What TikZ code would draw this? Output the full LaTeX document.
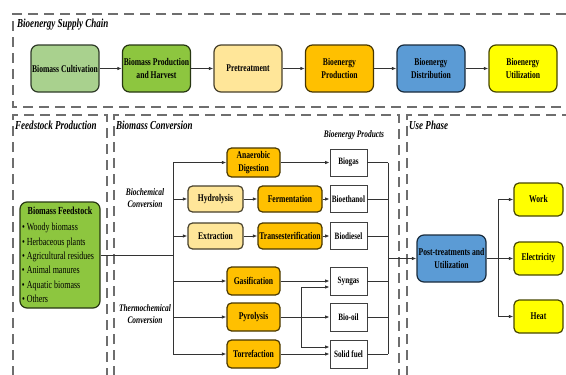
\documentclass[tikz,border=0pt]{standalone}
\usepackage{fontspec}
\setmainfont{Liberation Serif}[FakeStretch=0.74]
\usetikzlibrary{arrows.meta}
\definecolor{lgreen}{HTML}{A9D18E}
\definecolor{mgreen}{HTML}{8DC63F}
\definecolor{lorange}{HTML}{FFE699}
\definecolor{orng}{HTML}{FFC000}
\definecolor{blu}{HTML}{5B9BD5}
\definecolor{yel}{HTML}{FFFF00}
\definecolor{dashgray}{HTML}{6E6E6E}
\begin{document}
\begin{tikzpicture}[x=1pt,y=-1pt,
  box/.style={rounded corners=4.5pt, line width=1.2pt, align=center, inner sep=1pt,
    font=\fontsize{10.3}{12.3}\selectfont\bfseries},
  fillc/.style={box, fill=#1, draw=#1!28!black},
  bigbox/.style={minimum width=68pt, minimum height=47pt, rounded corners=7pt},
  proc/.style={minimum width=53pt, minimum height=28pt},
  proc2/.style={minimum height=26pt},
  prodbox/.style={draw=black!75, line width=0.8pt, fill=white, minimum width=37pt,
    minimum height=27pt, inner sep=1pt, font=\fontsize{9.7}{11}\selectfont\bfseries},
  outbox/.style={minimum width=49pt, minimum height=33pt, rounded corners=5pt},
  conn/.style={draw=black!80, line width=0.9pt},
  arr/.style={conn, -{Latex[length=4.5pt,width=3.5pt]}},
  phase/.style={draw=dashgray, line width=1.6pt, dash pattern=on 10pt off 6pt},
  ptitle/.style={anchor=west, inner sep=0pt, font=\fontsize{12.2}{14}\selectfont\bfseries\itshape},
  sublabel/.style={align=center, inner sep=0pt, font=\fontsize{10}{11.5}\selectfont\bfseries\itshape}
]
\useasboundingbox (0,0) rectangle (566,375);

% dashed frames
\draw[phase] (566,14) -- (13,14) -- (13,107) -- (566,107);
\draw[phase] (13,376) -- (13,115) -- (107,115) -- (107,376);
\draw[phase] (114,376) -- (114,115) -- (399,115) -- (399,376);
\draw[phase] (407,376) -- (407,115) -- (567,115);

% titles
\node[ptitle] (tsc) at (17,25) {Bioenergy Supply Chain};
\node[ptitle] (tfp) at (15,125) {Feedstock Production};
\node[ptitle] (tbc) at (116,125) {Biomass Conversion};
\node[ptitle] (tup) at (409,125) {Use Phase};
\node[sublabel] (lbio) at (145,198) {Biochemical\\Conversion};
\node[sublabel] (lthm) at (145,314) {Thermochemical\\Conversion};
\node[sublabel] (lprod) at (354,135) {Bioenergy Products};

% supply chain
\node[fillc=lgreen, bigbox] (cult) at (65,68.5) {Biomass Cultivation};
\node[fillc=mgreen, bigbox] (harv) at (156.5,68.5) {Biomass Production\\and Harvest};
\node[fillc=lorange, bigbox] (pre) at (248,68.5) {Pretreatment};
\node[fillc=orng, bigbox] (bprod) at (339.5,68.5) {Bioenergy\\Production};
\node[fillc=blu, bigbox] (dist) at (431,68.5) {Bioenergy\\Distribution};
\node[fillc=yel, bigbox] (util) at (523,68.5) {Bioenergy\\Utilization};
\draw[arr] (cult) -- (harv);
\draw[arr] (harv) -- (pre);
\draw[arr] (pre) -- (bprod);
\draw[arr] (bprod) -- (dist);
\draw[arr] (dist) -- (util);

% feedstock
\node[fillc=mgreen, rounded corners=7pt, minimum width=80pt, minimum height=106pt,
  align=left, inner sep=0pt, font=\fontsize{10.8}{14.3}\selectfont] (feed) at (60,255)
  {\makebox[76pt]{\bfseries Biomass Feedstock}\\[1.6pt]
   \textbullet\ Woody biomass\\
   \textbullet\ Herbaceous plants\\
   \textbullet\ Agricultural residues\\
   \textbullet\ Animal manures\\
   \textbullet\ Aquatic biomass\\
   \textbullet\ Others};

% biochemical
\node[fillc=orng, proc, minimum height=29pt] (ad) at (253.5,162.5) {Anaerobic\\Digestion};
\node[fillc=lorange, proc, proc2, minimum width=55pt] (hyd) at (215.5,199) {Hydrolysis};
\node[fillc=orng, proc, proc2, minimum width=64pt] (ferm) at (290,199) {Fermentation};
\node[fillc=lorange, proc, proc2, minimum width=55pt] (ext) at (215.5,236) {Extraction};
\node[fillc=orng, proc, proc2, minimum width=64pt] (trans) at (290,236) {Transesterification};
\node[prodbox] (biogas) at (348.5,162.5) {Biogas};
\node[prodbox] (bioeth) at (348.5,199) {Bioethanol};
\node[prodbox] (biodsl) at (348.5,236) {Biodiesel};

% thermochemical
\node[fillc=orng, proc] (gas) at (253.5,281) {Gasification};
\node[fillc=orng, proc] (pyro) at (253.5,317) {Pyrolysis};
\node[fillc=orng, proc] (torr) at (253.5,354) {Torrefaction};
\node[prodbox, minimum height=28pt] (syngas) at (348.5,281) {Syngas};
\node[prodbox, minimum height=28pt] (biooil) at (348.5,317) {Bio-oil};
\node[prodbox, minimum height=28pt] (solid) at (348.5,354) {Solid fuel};

% use phase
\node[fillc=blu, bigbox, minimum width=69pt] (post) at (451.5,258.5) {Post-treatments and\\Utilization};
\node[fillc=yel, outbox] (work) at (538.5,199.5) {Work};
\node[fillc=yel, outbox] (elec) at (538.5,258.5) {Electricity};
\node[fillc=yel, outbox] (heat) at (538.5,316.5) {Heat};

% trunk from feedstock
\coordinate (tr) at (173,255);
\draw[conn] (feed.east) -- (feed.east -| tr);
\draw[conn] (ad.west -| tr) -- (torr.west -| tr);
\foreach \n in {ad,hyd,ext,gas,pyro,torr} \draw[arr] (\n.west -| tr) -- (\n.west);

% process chains
\draw[arr] (ad) -- (biogas);
\draw[arr] (hyd) -- (ferm);
\draw[arr] (ferm) -- (bioeth);
\draw[arr] (ext) -- (trans);
\draw[arr] (trans) -- (biodsl);
\draw[arr] (gas) -- (syngas);
\draw[arr] (pyro) -- (biooil);
\draw[arr] (torr) -- (solid);
\coordinate (cx) at (301,317);
\draw[arr] (cx) |- ([yshift=-6pt]syngas.west);
\draw[arr] (cx) |- ([yshift=7pt]solid.west);

% collector to post-treatment
\coordinate (col) at (388,258.5);
\foreach \n in {biogas,bioeth,biodsl,syngas,biooil,solid} \draw[conn] (\n.east) -- (\n.east -| col);
\draw[conn] (biogas.east -| col) -- (solid.east -| col);
\draw[arr] (col) -- (post.west);

% outputs
\coordinate (jx) at (498,258.5);
\draw[conn] (post.east) -- (jx);
\draw[conn] (work.west -| jx) -- (heat.west -| jx);
\foreach \n in {work,elec,heat} \draw[arr] (\n.west -| jx) -- (\n.west);
\end{tikzpicture}
\end{document}
